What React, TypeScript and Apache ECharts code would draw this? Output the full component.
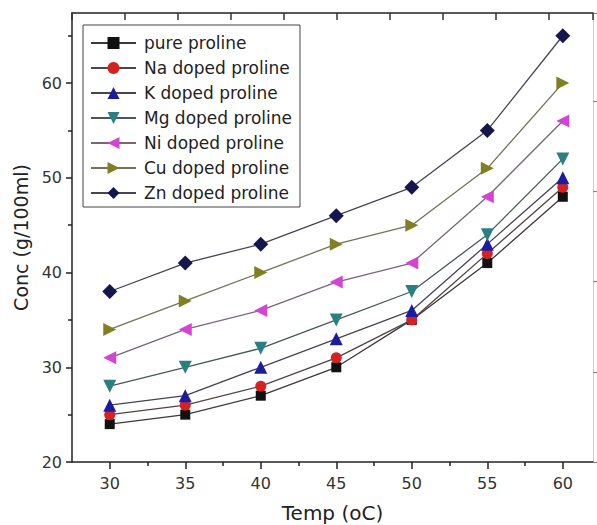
import React, { useEffect, useRef } from "react";
import * as echarts from "echarts";

const temps = [30, 35, 40, 45, 50, 55, 60];
const xMinorTicks = [32.5, 37.5, 42.5, 47.5, 52.5, 57.5];
const yMajorTicks = [20, 30, 40, 50, 60];
const yMinorTicks = [25, 35, 45, 55, 65];

const pureProline = [24, 25, 27, 30, 35, 41, 48];
const naDoped = [25, 26, 28, 31, 35, 42, 49];
const kDoped = [26, 27, 30, 33, 36, 43, 50];
const mgDoped = [28, 30, 32, 35, 38, 44, 52];
const niDoped = [31, 34, 36, 39, 41, 48, 56];
const cuDoped = [34, 37, 40, 43, 45, 51, 60];
const znDoped = [38, 41, 43, 46, 49, 55, 65];

const seriesNames = [
  "pure proline",
  "Na doped proline",
  "K doped proline",
  "Mg doped proline",
  "Ni doped proline",
  "Cu doped proline",
  "Zn doped proline",
];

const FONT = "DejaVu Sans";

export default function App() {
  const ref = useRef<HTMLDivElement>(null);

  useEffect(() => {
    if (!ref.current) return;
    const chart = echarts.init(ref.current, null, { renderer: "svg" });

    const defs = [
      { name: seriesNames[0], data: pureProline, symbol: "rect", size: 10, rotate: 0, color: "#111111", line: "#3a3a3a" },
      { name: seriesNames[1], data: naDoped, symbol: "circle", size: 11, rotate: 0, color: "#d42222", line: "#504444" },
      { name: seriesNames[2], data: kDoped, symbol: "triangle", size: 13, rotate: 0, color: "#1c1ca0", line: "#444455" },
      { name: seriesNames[3], data: mgDoped, symbol: "triangle", size: 13, rotate: 180, color: "#2a8080", line: "#485858" },
      { name: seriesNames[4], data: niDoped, symbol: "triangle", size: 13, rotate: 90, color: "#d444d4", line: "#766676" },
      { name: seriesNames[5], data: cuDoped, symbol: "triangle", size: 13, rotate: -90, color: "#808022", line: "#72725a" },
      { name: seriesNames[6], data: znDoped, symbol: "diamond", size: 15, rotate: 0, color: "#16164f", line: "#444452" },
    ];

    const axisColor = "#222222";

    chart.setOption({
      animation: false,
      backgroundColor: "#ffffff",
      grid: { left: 72, right: 4, top: 13, bottom: 63, outerBoundsMode: "none" },
      legend: {
        orient: "vertical",
        left: 83,
        top: 25,
        data: seriesNames,
        itemWidth: 45,
        itemHeight: 15,
        itemGap: 5,
        padding: [8, 8, 4, 7],
        borderColor: "#444444",
        borderWidth: 1,
        backgroundColor: "#ffffff",
        textStyle: { fontSize: 17, fontFamily: FONT, color: "#222222", lineHeight: 20, padding: [0, 0, 0, 3] },
      },
      xAxis: [
        {
          type: "value",
          position: "bottom",
          min: 27.5,
          max: 62,
          name: "Temp (oC)",
          nameLocation: "middle",
          nameGap: 41,
          nameTextStyle: { fontSize: 20, fontFamily: FONT, color: "#222222" },
          axisLine: { onZero: false, lineStyle: { color: axisColor, width: 1.5 } },
          axisTick: { customValues: temps, length: 7, lineStyle: { color: axisColor, width: 1.5 } },
          axisLabel: { customValues: temps, fontSize: 16, fontFamily: FONT, color: "#333333", margin: 13 },
          splitLine: { show: false },
        },
        {
          type: "value",
          position: "bottom",
          min: 27.5,
          max: 62,
          axisLine: { show: false, onZero: false },
          axisTick: { customValues: xMinorTicks, length: 4, lineStyle: { color: axisColor, width: 1.5 } },
          axisLabel: { show: false },
          splitLine: { show: false },
        },
        {
          type: "value",
          position: "top",
          min: 0,
          max: 9.83,
          interval: 1,
          axisLine: { show: true, onZero: false, lineStyle: { color: axisColor, width: 1.5 } },
          axisTick: { show: true, inside: true, length: 7, lineStyle: { color: "#333333", width: 1.5 } },
          axisLabel: { show: false },
          splitLine: { show: false },
        },
      ],
      yAxis: [
        {
          type: "value",
          position: "left",
          min: 20,
          max: 67.4,
          name: "Conc (g/100ml)",
          nameLocation: "middle",
          nameGap: 42,
          nameTextStyle: { fontSize: 19, fontFamily: FONT, color: "#222222" },
          axisLine: { onZero: false, lineStyle: { color: axisColor, width: 1.5 } },
          axisTick: { customValues: yMajorTicks, length: 6, lineStyle: { color: axisColor, width: 1.5 } },
          axisLabel: { customValues: yMajorTicks, fontSize: 16, fontFamily: FONT, color: "#333333", margin: 10 },
          splitLine: { show: false },
        },
        {
          type: "value",
          position: "left",
          min: 20,
          max: 67.4,
          axisLine: { show: false, onZero: false },
          axisTick: { customValues: yMinorTicks, length: 4, lineStyle: { color: axisColor, width: 1.5 } },
          axisLabel: { show: false },
          splitLine: { show: false },
        },
        {
          type: "value",
          position: "right",
          min: 0,
          max: 4.98,
          interval: 1,
          axisLine: { onZero: false, lineStyle: { color: "#d0d0d0", width: 1 } },
          axisTick: { show: true, length: 5, lineStyle: { color: "#888888", width: 1.2 } },
          axisLabel: { show: false },
          splitLine: { show: false },
        },
      ],
      series: defs.map((d) => ({
        name: d.name,
        type: "line",
        xAxisIndex: 0,
        yAxisIndex: 0,
        data: temps.map((t, i) => [t, d.data[i]]),
        symbol: d.symbol,
        symbolSize: d.size,
        symbolRotate: d.rotate,
        showAllSymbol: true,
        itemStyle: { color: d.color },
        lineStyle: { color: d.line, width: 1.3 },
        z: 3,
      })),
    });

    return () => chart.dispose();
  }, []);

  return (
    <div
      ref={ref}
      style={{ position: "fixed", left: 0, top: 0, width: 597, height: 525, background: "#fff" }}
    />
  );
}
